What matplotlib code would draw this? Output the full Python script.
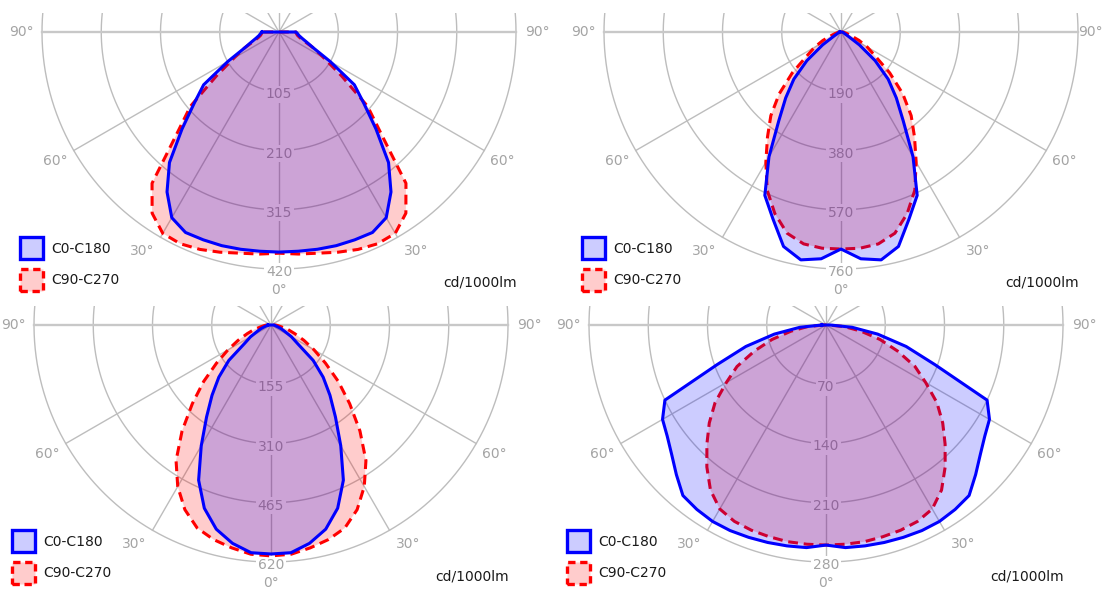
import matplotlib.pyplot as plt
import numpy as np
from matplotlib.patches import Patch

# gamma angles from nadir (deg), shared by every diagram
angles = [0, 5, 10, 15, 20, 25, 30, 35, 40, 45, 50, 55, 60, 65, 70, 75, 80, 85, 90]

# diagram 1 (top left)
rings_1 = [105, 210, 315, 420]
c0_1 = [390, 390, 391, 392, 392, 392, 380, 346, 302, 243, 196, 163, 105, 68, 52, 42, 36, 33, 30]
c90_1 = [392, 395, 398, 404, 410, 414, 412, 392, 350, 257, 205, 135, 92, 68, 48, 38, 33, 31, 30]

# diagram 2 (top right)
rings_2 = [190, 380, 570, 760]
c0_2 = [696, 730, 742, 712, 638, 578, 462, 348, 276, 214, 143, 72, 26, 14, 10, 8, 6, 5, 4]
c90_2 = [696, 696, 690, 668, 620, 560, 482, 411, 350, 280, 204, 133, 98, 64, 33, 20, 12, 8, 5]

# diagram 3 (bottom left)
rings_3 = [155, 310, 465, 620]
c0_3 = [599, 598, 580, 553, 510, 448, 365, 294, 240, 193, 144, 85, 62, 40, 28, 18, 12, 10, 8]
c90_3 = [604, 602, 592, 581, 565, 533, 488, 433, 362, 291, 230, 174, 130, 95, 66, 46, 27, 18, 12]

# diagram 4 (bottom right)
rings_4 = [70, 140, 210, 280]
c0_4 = [260, 264, 265, 266, 267, 268, 268, 266, 263, 250, 238, 229, 223, 210, 137, 98, 62, 31, 5]
c90_4 = [260, 260, 260, 259, 258, 256, 251, 238, 219, 199, 180, 160, 136, 116, 90, 66, 42, 22, 3]

legend_labels = ["C0-C180", "C90-C270"]
unit_label = "cd/1000lm"
deg_labels = ["0°", "30°", "60°", "90°"]
deg_pos = [0, 32, 60, 90]

W, H = 1104, 591
R_PX = 237.0
GRID = "#bdbdbd"
TXT_GREY = "#a4a4a4"


def panel(fig, cx, cy, rings, c0, c90):
    vmax = rings[-1]
    k = vmax / R_PX  # cd per pixel
    left, right, top, bottom = cx - 290, cx + 290, cy - 19, cy + 272
    ax = fig.add_axes([left / W, 1 - bottom / H, (right - left) / W, (bottom - top) / H])
    ax.set_xlim(-290 * k, 290 * k)
    ax.set_ylim(-272 * k, 19 * k)
    ax.set_aspect("auto")
    ax.axis("off")

    # grid: rings and spokes
    t = np.linspace(0, 2 * np.pi, 400)
    for r in rings:
        ax.plot(r * np.cos(t), r * np.sin(t), color=GRID, lw=1.0, zorder=1)
    for a in [30, 60]:
        s, c = np.sin(np.radians(a)), np.cos(np.radians(a))
        ax.plot([-vmax * s, vmax * s], [vmax * c, -vmax * c], color=GRID, lw=1.0, zorder=1)
        ax.plot([vmax * s, -vmax * s], [vmax * c, -vmax * c], color=GRID, lw=1.0, zorder=1)
    ax.plot([0, 0], [vmax, -vmax], color=GRID, lw=1.0, zorder=1)
    ax.plot([-vmax, vmax], [0, 0], color="#c8c8c8", lw=1.7, zorder=1)

    for r in rings:
        ax.text(0, -r - 3 * k, str(r), ha="center", va="center", fontsize=10,
                color=TXT_GREY, zorder=2,
                bbox=dict(boxstyle="square,pad=0.12", fc="white", ec="none"))

    rl = 258 * k
    for lab, a in zip(deg_labels, deg_pos):
        s, c = np.sin(np.radians(a)), np.cos(np.radians(a))
        ax.text(-rl * s, -rl * c, lab, ha="center", va="center", fontsize=10,
                color=TXT_GREY, clip_on=False)
        if a > 0:
            xr = rl * s
            ha = "center"
            if cx + 258 * s + 14 > W:  # keep the label inside the picture
                xr, ha = (W - 1 - cx) * k, "right"
            ax.text(xr, -rl * c, lab, ha=ha, va="center", fontsize=10,
                    color=TXT_GREY, clip_on=False)

    # curves, mirrored about nadir
    g = np.radians(np.concatenate([-np.array(angles[::-1]), np.array(angles[1:])]))

    def xy(vals):
        v = np.concatenate([np.array(vals[::-1]), np.array(vals[1:])], dtype=float)
        x = v * np.sin(g)
        y = -v * np.cos(g)
        return np.append(x, x[0]), np.append(y, y[0])

    x, y = xy(c90)
    ax.fill(x, y, color=(1, 0, 0, 0.2), lw=0, zorder=3)
    ax.plot(x, y, color="#ff0000", lw=2.2, ls=(0, (3.2, 1.9)), zorder=4,
            solid_joinstyle="round")
    x, y = xy(c0)
    ax.fill(x, y, color=(0, 0, 1, 0.2), lw=0, zorder=5)
    ax.plot(x, y, color="#0000ff", lw=2.2, zorder=6, solid_joinstyle="round")

    handles = [
        Patch(facecolor=(0, 0, 1, 0.2), edgecolor="#0000ff", lw=2.4),
        Patch(facecolor=(1, 0, 0, 0.2), edgecolor="#ff0000", lw=2.4, ls=(0, (2.2, 1.4))),
    ]
    lx = (cx - 259 - left) / (right - left)
    ly = (bottom - (cy + 205)) / (bottom - top)
    ax.legend(handles, legend_labels, loc="upper left", bbox_to_anchor=(lx, ly),
              frameon=False, fontsize=10, handlelength=1.65, handleheight=2.1,
              handletextpad=0.6, labelspacing=0.68, borderpad=0, borderaxespad=0,
              labelcolor="#1a1a1a")

    ax.text(238 * k, -251 * k, unit_label, ha="right", va="center", fontsize=10,
            color="#1a1a1a", clip_on=False)


fig = plt.figure(figsize=(W / 100, H / 100), dpi=100)
panel(fig, 279, 32, rings_1, c0_1, c90_1)
panel(fig, 841, 32, rings_2, c0_2, c90_2)
panel(fig, 271, 325, rings_3, c0_3, c90_3)
panel(fig, 826, 325, rings_4, c0_4, c90_4)

fig.savefig("out.png", dpi=100)
